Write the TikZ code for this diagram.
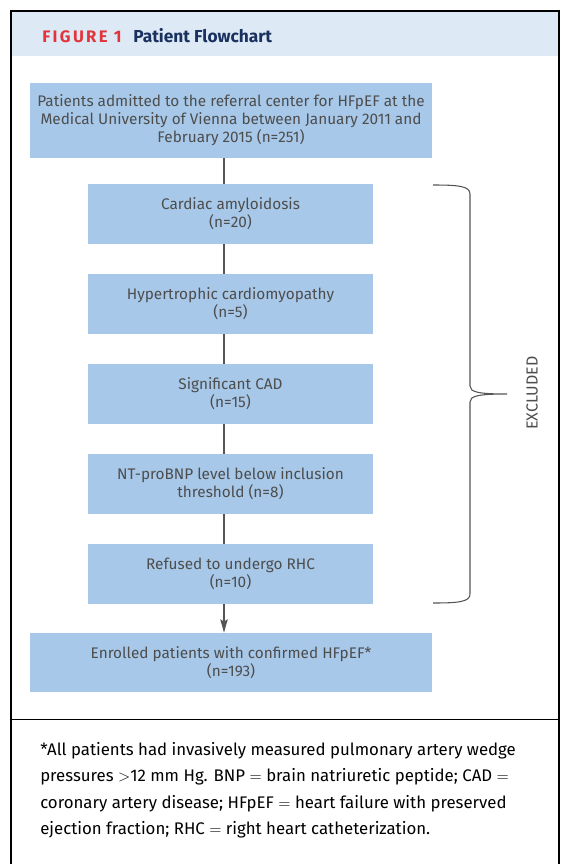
\documentclass[tikz,border=0pt]{standalone}
\usepackage{fontspec}
\setmainfont{Fira Sans}
\usetikzlibrary{arrows.meta}
\definecolor{boxblue}{HTML}{A7C8E8}
\definecolor{headblue}{HTML}{DDE9F5}
\definecolor{figred}{HTML}{E2343B}
\definecolor{navy}{HTML}{1A3160}
\definecolor{txtgray}{HTML}{4D4D4D}
\definecolor{linegray}{HTML}{555555}
\tikzset{
  flowbox/.style={fill=boxblue, draw=none, align=center, text=txtgray, font=\fontsize{11.5}{13.5}\selectfont, inner sep=0pt},
  bigbox/.style={flowbox, minimum width=402*0.75pt, minimum height=75*0.75pt},
  endbox/.style={flowbox, minimum width=402*0.75pt, minimum height=59*0.75pt},
  midbox/.style={flowbox, minimum width=285*0.75pt, minimum height=60*0.75pt},
  conn/.style={draw=linegray, line width=1.1pt},
  frame/.style={draw=black, line width=1.5pt}
}
\begin{document}
\begin{tikzpicture}[x=0.75pt,y=-0.75pt]
\useasboundingbox (0,0) rectangle (562,864);
\fill[white] (0,0) rectangle (562,864);
% header band
\fill[headblue] (10,10) rectangle (559,56);
\draw[frame] (10.5,870) -- (10.5,10.5) -- (558.5,10.5) -- (558.5,870);
\draw[black, line width=1.3pt] (10.5,719.5) -- (558.5,719.5);
\node[anchor=base west, text=figred, inner sep=0pt, font=\fontsize{12.5}{14}\selectfont\bfseries\addfontfeature{LetterSpace=14}] (figlabel) at (42,42) {FIGURE 1};
\node[anchor=base west, text=navy, font=\fontsize{13}{15}\selectfont\bfseries, inner sep=0pt] (figtitle) at (133,42) {Patient Flowchart};
% boxes
\node[bigbox] (top) at (231,120) {Patients admitted to the referral center for HFpEF at the\\Medical University of Vienna between January 2011 and\\February 2015 (n=251)};
\node[midbox] (b1) at (230.5,214) {Cardiac amyloidosis\\(n=20)};
\node[midbox] (b2) at (230.5,304) {Hypertrophic cardiomyopathy\\(n=5)};
\node[midbox] (b3) at (230.5,394) {Significant CAD\\(n=15)};
\node[midbox] (b4) at (230.5,484) {NT-proBNP level below inclusion\\threshold (n=8)};
\node[midbox] (b5) at (230.5,574) {Refused to undergo RHC\\(n=10)};
\node[endbox] (fin) at (231,662.5) {Enrolled patients with confirmed HFpEF*\\(n=193)};
% connectors
\coordinate (cx) at (224,0);
\draw[conn] (top.south -| cx) -- (b1.north -| cx);
\draw[conn] (b1.south -| cx) -- (b2.north -| cx);
\draw[conn] (b2.south -| cx) -- (b3.north -| cx);
\draw[conn] (b3.south -| cx) -- (b4.north -| cx);
\draw[conn] (b4.south -| cx) -- (b5.north -| cx);
\draw[conn, -{Stealth[length=10pt,width=5.5pt,inset=1.5pt]}] (b5.south -| cx) -- (fin.north -| cx);
% brace
\coordinate (brtop) at (433,185);
\coordinate (brtip) at (507,394);
\coordinate (brbot) at (433,603);
\draw[linegray, line width=0.8pt]
  (brtop) .. controls (458,185) and (470,186) .. (470,194)
  -- (470,386) .. controls (470,392) and (478,394) .. (brtip)
  (brtip) .. controls (478,394) and (470,396) .. (470,402)
  -- (470,594) .. controls (470,602) and (458,603) .. (brbot);
\node[rotate=90, text=txtgray, font=\fontsize{12}{14}\selectfont] (excl) at (532,393) {EXCLUDED};
% footnote
\node[anchor=north west, align=left, text=black, inner sep=0pt, font=\fontsize{12.6}{19.8}\selectfont] (note) at (40,742) {*All patients had invasively measured pulmonary artery wedge\\pressures ${>}$12 mm Hg. BNP ${=}$ brain natriuretic peptide; CAD ${=}$\\coronary artery disease; HFpEF ${=}$ heart failure with preserved\\ejection fraction; RHC ${=}$ right heart catheterization.};
\end{tikzpicture}
\end{document}
